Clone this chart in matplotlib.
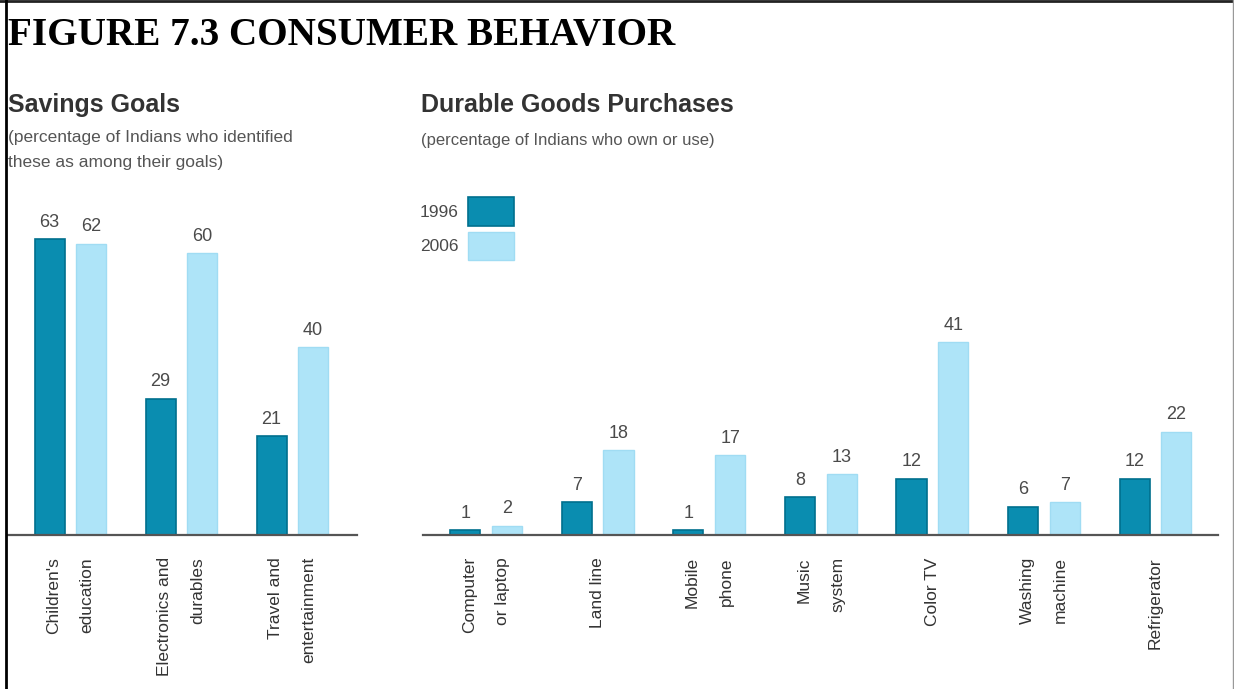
import matplotlib
matplotlib.use("Agg")
import matplotlib.pyplot as plt
from matplotlib import font_manager

# savings goals (percent)
goal_labels = ["Children's\neducation", "Electronics and\ndurables", "Travel and\nentertainment"]
goals_1996 = [63, 29, 21]
goals_2006 = [62, 60, 40]

# durable goods owned or used (percent)
goods_labels = ["Computer\nor laptop", "Land line", "Mobile\nphone", "Music\nsystem",
                "Color TV", "Washing\nmachine", "Refrigerator"]
goods_1996 = [1, 7, 1, 8, 12, 6, 12]
goods_2006 = [2, 18, 17, 13, 41, 7, 22]

years = ["1996", "2006"]

DARK, DARK_EDGE = "#0a8db0", "#00708e"
LIGHT, LIGHT_EDGE = "#aee4f8", "#a0dcf3"
TEXT_GRAY = "#4a4a4a"

available = {f.name for f in font_manager.fontManager.ttflist}
narrow = "Liberation Sans Narrow" if "Liberation Sans Narrow" in available else "Liberation Sans"
plt.rcParams['font.family'] = [narrow, 'DejaVu Sans']

W, H = 1234, 689
fig = plt.figure(figsize=(W / 100, H / 100), dpi=100)


def px_axes(x0, x1, y_top, y_base):
    return fig.add_axes([x0 / W, 1 - y_base / H, (x1 - x0) / W, (y_base - y_top) / H])


def draw_bars(ax, labels, v1, v2, xlim):
    xs = range(len(labels))
    w, off = 0.27, 0.187
    b1 = ax.bar([x - off for x in xs], v1, w, color=DARK, edgecolor=DARK_EDGE, linewidth=1.2, label=years[0])
    b2 = ax.bar([x + off for x in xs], v2, w, color=LIGHT, edgecolor=LIGHT_EDGE, linewidth=1.0, label=years[1])
    for bars in (b1, b2):
        ax.bar_label(bars, padding=6, fontsize=13, color=TEXT_GRAY)
    ax.set_xlim(*xlim)
    ax.set_ylim(0, 71.3)
    ax.set_xticks(list(xs))
    ax.set_xticklabels(labels, rotation=90, fontsize=12.5, color="#333333",
                       va="top", ha="center", multialignment="right", linespacing=2.55)
    ax.tick_params(axis="x", length=0, pad=16)
    ax.set_yticks([])
    for s in ("top", "right", "left"):
        ax.spines[s].set_visible(False)
    ax.spines["bottom"].set_color("#555555")
    ax.spines["bottom"].set_linewidth(1.6)
    return b1, b2


ax1 = px_axes(8, 357, 200, 535)
draw_bars(ax1, goal_labels, goals_1996, goals_2006, (-0.561, 2.583))

ax2 = px_axes(423, 1218, 200, 535)
h1, h2 = draw_bars(ax2, goods_labels, goods_1996, goods_2006, (-0.565, 6.56))

ax2.legend([h1, h2], years, loc="upper left", bbox_to_anchor=(420 / W, 1 - 197 / H),
           bbox_transform=fig.transFigure, frameon=False, markerfirst=False,
           fontsize=12.5, handlelength=2.7, handleheight=2.15, labelspacing=0.35,
           handletextpad=0.5, borderpad=0, borderaxespad=0, labelcolor=TEXT_GRAY)

# headings
fig.text(8 / W, 1 - 45 / H, "FIGURE 7.3 CONSUMER BEHAVIOR", family="Liberation Serif",
         fontweight="bold", fontsize=28.2, color="black", va="baseline")
fig.text(8 / W, 1 - 112 / H, "Savings Goals", fontweight="bold", fontsize=18,
         color="#333333", va="baseline")
fig.text(8 / W, 1 - 130 / H, "(percentage of Indians who identified\nthese as among their goals)",
         fontsize=12.5, color="#555555", va="top", linespacing=1.8)
fig.text(421 / W, 1 - 112 / H, "Durable Goods Purchases", fontweight="bold", fontsize=18,
         color="#333333", va="baseline")
fig.text(421 / W, 1 - 133 / H, "(percentage of Indians who own or use)",
         fontsize=12, color="#555555", va="top")

# frame lines along the top, left and right edges
fig.add_artist(plt.Line2D([0, 1], [1 - 1 / H, 1 - 1 / H], transform=fig.transFigure, color="#222222", lw=2))
fig.add_artist(plt.Line2D([6 / W, 6 / W], [0, 1], transform=fig.transFigure, color="black", lw=2))
fig.add_artist(plt.Line2D([1 - 1.5 / W, 1 - 1.5 / W], [0, 1], transform=fig.transFigure, color="#999999", lw=1))

fig.savefig("out.png", dpi=100)
